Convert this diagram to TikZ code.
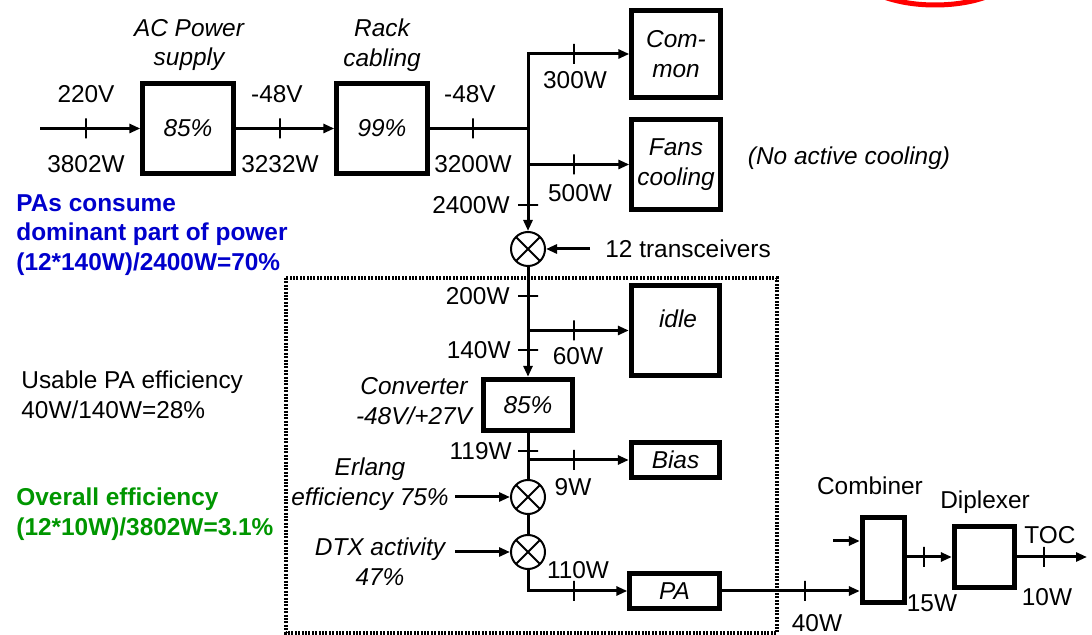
\documentclass[tikz,border=0pt]{standalone}
\usepackage{fontspec}
\setmainfont{Liberation Sans}
\usetikzlibrary{arrows.meta}
\definecolor{pablue}{RGB}{0,0,204}
\definecolor{effgreen}{RGB}{0,150,0}
\newcommand{\lblsize}{\fontsize{12.2}{14.8}\selectfont}
\tikzset{
  txt/.style={font=\lblsize, inner sep=0pt, align=center},
  itx/.style={font=\lblsize\itshape, inner sep=0pt, align=center},
  blk/.style={draw, line width=2.4pt, inner sep=0pt, align=center, font=\lblsize\itshape},
  mul/.style={circle, draw, line width=1pt, minimum size=17pt, inner sep=0pt,
    path picture={\draw[line width=1pt]
      (path picture bounding box.south west) -- (path picture bounding box.north east)
      (path picture bounding box.north west) -- (path picture bounding box.south east);}},
  wire/.style={line width=1.5pt},
  flow/.style={wire, -{Triangle[length=5.5pt,width=4.5pt]}},
  tkv/.style={draw, line width=1.1pt, minimum width=0pt, minimum height=10pt, inner sep=0pt, outer sep=0pt},
  tkh/.style={draw, line width=1.1pt, minimum width=10pt, minimum height=0pt, inner sep=0pt, outer sep=0pt},
}
\begin{document}
\begin{tikzpicture}[x=0.5pt, y=-0.5pt]
  \useasboundingbox (0,0) rectangle (1092,635);
  % red ring cut off by the top edge
  \begin{scope}
    \clip (0,0) rectangle (1092,635);
    \draw[red, line width=2.5pt] (935,-30) ellipse [x radius=40pt, y radius=17.5pt];
  \end{scope}

  % supply chain blocks
  \node[blk, minimum width=45.3pt, minimum height=45.3pt] (ac) at (188,128.5) {85\%};
  \node[blk, minimum width=45.3pt, minimum height=45.3pt] (rack) at (382,128.5) {99\%};
  \node[blk, minimum width=44.3pt, minimum height=43.8pt] (common) at (676,54) {Com-\\mon};
  \node[blk, minimum width=44.3pt, minimum height=45.3pt] (fans) at (676,164.5) {Fans\\cooling};
  % transceiver blocks
  \node[blk, minimum width=44.3pt, minimum height=45.3pt] (idle) at (675.5,330.5) {};
  \node[itx] (idletxt) at (678,319) {idle};
  \node[blk, minimum width=44.8pt, minimum height=25.8pt] (conv) at (528,405) {85\%};
  \node[blk, minimum width=44.3pt, minimum height=17.8pt] (bias) at (675.5,460) {Bias};
  \node[blk, minimum width=44.8pt, minimum height=17.8pt] (pa) at (674.5,591) {PA};
  % antenna side
  \node[blk, minimum width=21.3pt, minimum height=42.8pt] (comb) at (883.5,560) {};
  \node[blk, minimum width=30.3pt, minimum height=30.3pt] (dipl) at (984.5,557) {};
  % multipliers
  \node[mul] (m1) at (528,249) {};
  \node[mul] (m2) at (528,497) {};
  \node[mul] (m3) at (528,552) {};

  % dotted frame round one transceiver
  \draw[line width=1.6pt, dash pattern=on 1pt off 0.7pt] (286,278) rectangle (777,633);

  % connectors
  \coordinate (in0) at (40,128.5);
  \coordinate (j1) at (528,128.5);
  \coordinate (j2) at (528,330.5);
  \coordinate (j3) at (528,460);
  \coordinate (erl) at (455,497);
  \coordinate (dtx) at (455,552);
  \coordinate (cin) at (833,541);
  \coordinate (toc) at (1087,557);
  \draw[flow] (in0) -- (ac);
  \draw[flow] (ac) -- (rack);
  \draw[wire] (rack) -- (j1);
  \draw[flow] (j1) |- (common);
  \draw[flow] (j1) |- (fans);
  \draw[flow] (j1) -- (m1);
  \node[txt, anchor=west] (trx) at (605,249) {12 transceivers};
  \draw[flow] ([xshift=-7.5pt]trx.west) -- (m1);
  \draw[wire] (m1) -- (j2);
  \draw[flow] (j2) -- (idle);
  \draw[flow] (j2) -- (conv);
  \draw[wire] (conv) -- (m2);
  \draw[flow] (j3) -- (bias);
  \draw[flow] (erl) -- (m2);
  \draw[wire] (m2) -- (m3);
  \draw[flow] (dtx) -- (m3);
  \draw[flow] (m3) |- (pa);
  \draw[flow] (pa) -- (pa -| comb.west);
  \draw[flow] (cin) -- (cin -| comb.west);
  \draw[flow] (comb.east |- dipl) -- (dipl);
  \draw[flow] (dipl) -- (toc);

  % ticks on the lines
  \foreach \p [count=\i] in {(86,128.5),(280,128.5),(473,128.5),(574,54),(574,164.5),
      (574,330.5),(574,460),(574,591),(805,591),(924,557),(1044,557)}
    \node[tkv] (tv\i) at \p {};
  \foreach \p [count=\i] in {(528,205),(528,296),(528,350),(528,451)}
    \node[tkh] (th\i) at \p {};

  % block titles
  \node[itx] (actitle) at (189,45) {AC Power\\supply};
  \node[itx] (racktitle) at (382,45) {Rack\\cabling};
  \node[itx] (convtitle) at (414,401) {Converter\\-48V/+27V};
  \node[itx] (erltitle) at (370,484) {Erlang\\efficiency 75\%};
  \node[itx] (dtxtitle) at (380,562) {DTX activity\\47\%};
  \node[itx] (nocool) at (849,158) {(No active cooling)};
  \node[txt] (combtitle) at (870,486) {Combiner};
  \node[txt] (dipltitle) at (985,502) {Diplexer};

  % voltages and powers
  \node[txt] (v1) at (86,94) {220V};
  \node[txt] (p1) at (86,164) {3802W};
  \node[txt] (v2) at (277,94) {-48V};
  \node[txt] (p2) at (280,164) {3232W};
  \node[txt] (v3) at (470,94) {-48V};
  \node[txt] (p3) at (473,164) {3200W};
  \node[txt] (p4) at (575,80) {300W};
  \node[txt] (p5) at (580,193) {500W};
  \node[txt, anchor=east] (p6) at (510,205) {2400W};
  \node[txt, anchor=east] (p7) at (510,296) {200W};
  \node[txt, anchor=east] (p8) at (511,350) {140W};
  \node[txt] (p9) at (578,356) {60W};
  \node[txt, anchor=east] (p10) at (512,451) {119W};
  \node[txt] (p11) at (573,487) {9W};
  \node[txt] (p12) at (578,570) {110W};
  \node[txt] (p13) at (817,623) {40W};
  \node[txt] (p14) at (932,603) {15W};
  \node[txt] (p15) at (1047,597) {10W};
  \node[txt] (tocl) at (1050,535) {TOC};

  % notes on the left
  \node[txt, anchor=west, align=left, font=\lblsize\bfseries, text=pablue] (note1) at (16,235)
    {PAs consume\\dominant part of power\\(12*140W)/2400W=70\%};
  \node[txt, anchor=west, align=left] (note2) at (21,395) {Usable PA efficiency\\40W/140W=28\%};
  \node[txt, anchor=west, align=left, font=\lblsize\bfseries, text=effgreen] (note3) at (16,514)
    {Overall efficiency\\(12*10W)/3802W=3.1\%};
\end{tikzpicture}
\end{document}
